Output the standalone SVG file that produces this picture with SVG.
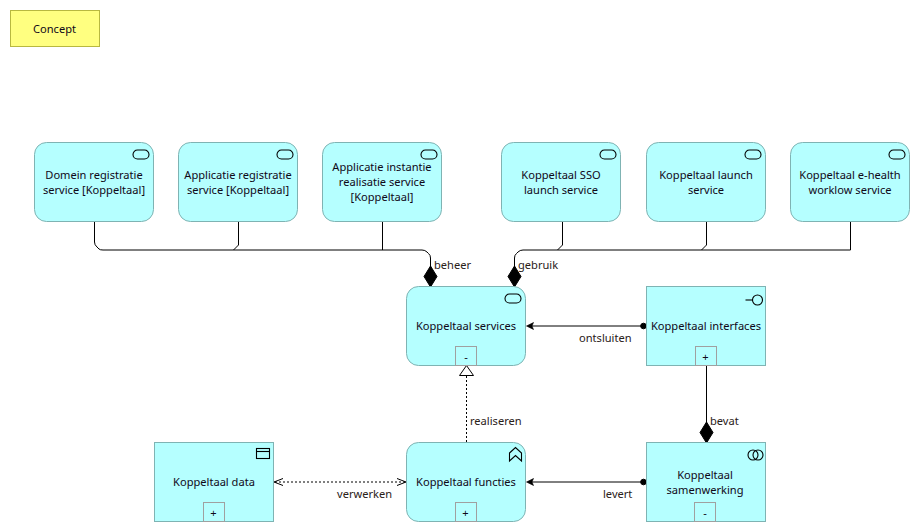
<svg xmlns="http://www.w3.org/2000/svg" width="920" height="532" viewBox="0 0 920 532">
<style>
text{font-family:"Noto Sans","Open Sans","Liberation Sans",sans-serif;font-size:11.1px;fill:#100818;text-anchor:middle}
.lbl{text-anchor:start;fill:#2a2018}
.n{fill:#b5ffff;stroke:#7fb3b3;stroke-width:1}
.c{fill:none;stroke:#000;stroke-width:1}
.i{fill:none;stroke:#000;stroke-width:1.1}
.b{fill:#b5ffff;stroke:#a0a0a0;stroke-width:1}
.d{fill:#000;stroke:#000}
.a{fill:#000;stroke:#000;stroke-width:.6}
.dash{fill:none;stroke:#000;stroke-width:1;stroke-dasharray:2 2}
</style>
<rect width="920" height="532" fill="#fff"/>
<g id="note"><rect x="10.500" y="10.500" width="89" height="36" fill="#ffff80" stroke="#b8b840"/><text x="54.500" y="33">Concept</text></g>
<g id="connectors">
<path class="c" d="M94.500 222V242Q94.500 245 97 247L99 249Q100 250 103 250H422Q425 250 427 252L428.500 253.500Q430.500 255 430.500 258V270M238.500 222V245L233.500 250M382.500 222V250"/>
<path class="c" d="M850.500 222V250H523Q520 250 518 252L516.500 253.500Q514.500 255 514.500 258V270M706.500 222V245L701.500 250M562.500 222V245L557.500 250"/>
<path class="d" d="M430.500 266L437 276.500L430.500 287L424 276.500Z"/>
<path class="d" d="M514.500 266L521 276.500L514.500 287L508 276.500Z"/>
<path class="c" d="M644 326H530"/><path class="a" d="M526.500 326L533.500 322.500L532 326L533.500 329.500Z"/><circle class="d" cx="643.500" cy="326" r="2.800"/>
<path class="c" d="M706.500 366V423"/><path class="d" d="M706.500 422L713 432.500L706.500 443L700 432.500Z"/>
<path class="c" d="M644 482H530"/><path class="a" d="M526.500 482L533.500 478.500L532 482L533.500 485.500Z"/><circle class="d" cx="643.500" cy="482" r="2.800"/>
<path class="dash" d="M466.500 442V376"/><path d="M466.500 365.500L473.500 375.500H459.500Z" fill="#fff" stroke="#000"/>
<path class="dash" d="M275 482H405"/><path class="c" d="M283 478.500L274 482L283 485.500M397 478.500L406 482L397 485.500"/>
<text class="lbl" x="434" y="269">beheer</text>
<text class="lbl" x="518" y="269">gebruik</text>
<text class="lbl" x="579" y="342">ontsluiten</text>
<text class="lbl" x="710" y="425">bevat</text>
<text class="lbl" x="470" y="425">realiseren</text>
<text class="lbl" x="337" y="498">verwerken</text>
<text class="lbl" x="603" y="498">levert</text>
</g>
<defs>
<g id="svc"><rect x="-18" y="0" width="16" height="9" rx="4.500" class="i"/></g>
</defs>
<g id="n1"><rect class="n" x="34.500" y="142.500" width="119" height="79" rx="12"/><use href="#svc" x="151" y="150"/><text x="94" y="179">Domein registratie</text><text x="94" y="194">service [Koppeltaal]</text></g>
<g id="n2"><rect class="n" x="178.500" y="142.500" width="119" height="79" rx="12"/><use href="#svc" x="295" y="150"/><text x="238" y="179">Applicatie registratie</text><text x="238" y="194">service [Koppeltaal]</text></g>
<g id="n3"><rect class="n" x="322.500" y="142.500" width="119" height="79" rx="12"/><use href="#svc" x="439" y="150"/><text x="382" y="171">Applicatie instantie</text><text x="382" y="186">realisatie service</text><text x="382" y="201">[Koppeltaal]</text></g>
<g id="n4"><rect class="n" x="501.500" y="142.500" width="119" height="79" rx="12"/><use href="#svc" x="618" y="150"/><text x="561" y="179">Koppeltaal SSO</text><text x="561" y="194">launch service</text></g>
<g id="n5"><rect class="n" x="646.500" y="142.500" width="119" height="79" rx="12"/><use href="#svc" x="763" y="150"/><text x="706" y="179">Koppeltaal launch</text><text x="706" y="194">service</text></g>
<g id="n6"><rect class="n" x="790.500" y="142.500" width="119" height="79" rx="12"/><use href="#svc" x="907" y="150"/><text x="850" y="179">Koppeltaal e-health</text><text x="850" y="194">worklow service</text></g>
<g id="services"><rect class="n" x="406.500" y="286.500" width="119" height="79" rx="12"/><use href="#svc" x="523" y="294"/><text x="466" y="330">Koppeltaal services</text><rect class="b" x="455.500" y="346.500" width="21" height="19"/><text x="466" y="361">-</text></g>
<g id="interfaces"><rect class="n" x="646.500" y="286.500" width="119" height="79"/><circle class="i" cx="757.500" cy="300" r="5"/><path class="i" d="M745.500 300H752.500"/><text x="706" y="330">Koppeltaal interfaces</text><rect class="b" x="695.500" y="346.500" width="21" height="19"/><text x="705.500" y="361">+</text></g>
<g id="functies"><rect class="n" x="406.500" y="442.500" width="119" height="79" rx="12"/><path class="i" d="M509.500 453L515.500 447.500L521.500 453V461L515.500 455.500L509.500 461Z"/><text x="466" y="486">Koppeltaal functies</text><rect class="b" x="455.500" y="502.500" width="21" height="19"/><text x="465.500" y="517">+</text></g>
<g id="samenwerking"><rect class="n" x="646.500" y="442.500" width="119" height="79"/><circle class="i" cx="753" cy="455" r="5"/><circle class="i" cx="758" cy="455" r="5"/><text x="705" y="479">Koppeltaal</text><text x="705" y="494">samenwerking</text><rect class="b" x="694.500" y="502.500" width="21" height="19"/><text x="705" y="517">-</text></g>
<g id="data"><rect class="n" x="154.500" y="442.500" width="119" height="79"/><rect class="i" x="256.500" y="448.500" width="13" height="10"/><path class="i" d="M256.500 451.500H269.500"/><text x="214" y="486">Koppeltaal data</text><rect class="b" x="203.500" y="502.500" width="21" height="19"/><text x="213.500" y="517">+</text></g>
</svg>
